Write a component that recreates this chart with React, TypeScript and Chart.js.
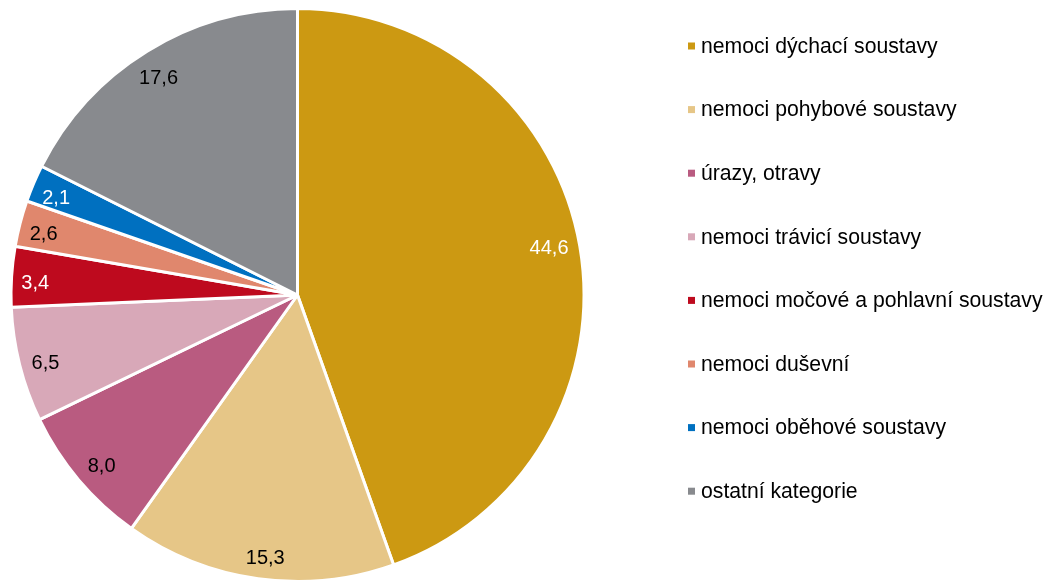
import React, { useEffect, useRef } from "react";
import { Chart, registerables } from "chart.js";

Chart.register(...registerables);

const categories = [
  "nemoci dýchací soustavy",
  "nemoci pohybové soustavy",
  "úrazy, otravy",
  "nemoci trávicí soustavy",
  "nemoci močové a pohlavní soustavy",
  "nemoci duševní",
  "nemoci oběhové soustavy",
  "ostatní kategorie",
];
const values = [44.6, 15.3, 8.0, 6.5, 3.4, 2.6, 2.1, 17.6];
const valueLabels = ["44,6", "15,3", "8,0", "6,5", "3,4", "2,6", "2,1", "17,6"];
const colors = ["#CC9912", "#E6C687", "#B95B80", "#D8A8B8", "#BE0A1E", "#E0876D", "#0070C0", "#888A8E"];
const labelColors = ["#FFFFFF", "#000000", "#000000", "#000000", "#FFFFFF", "#000000", "#FFFFFF", "#000000"];

const FONT = "Liberation Sans, Arial, sans-serif";

const labelsPlugin = {
  id: "sliceLabels",
  afterDatasetsDraw(chart: any) {
    const ctx = chart.ctx;
    const meta = chart.getDatasetMeta(0);
    ctx.save();
    ctx.font = `20px ${FONT}`;
    ctx.textAlign = "center";
    ctx.textBaseline = "middle";
    meta.data.forEach((arc: any, i: number) => {
      const { x, y, startAngle, endAngle, outerRadius } = arc.getProps(
        ["x", "y", "startAngle", "endAngle", "outerRadius"],
        true
      );
      const mid = (startAngle + endAngle) / 2 - 0.016;
      const hw = ctx.measureText(valueLabels[i]).width / 2;
      const hh = 10;
      const extent = Math.abs(Math.cos(mid)) * hw + Math.abs(Math.sin(mid)) * hh;
      const r = outerRadius - extent - 9.5;
      ctx.fillStyle = labelColors[i];
      ctx.fillText(valueLabels[i], x + Math.cos(mid) * r, y + Math.sin(mid) * r + 1);
    });
    ctx.restore();
  },
};

const legendPlugin = {
  id: "customLegend",
  afterDraw(chart: any) {
    const ctx = chart.ctx;
    ctx.save();
    ctx.font = `21.2px ${FONT}`;
    ctx.textBaseline = "middle";
    ctx.textAlign = "left";
    categories.forEach((c, i) => {
      const y = 46 + i * 63.6;
      ctx.fillStyle = colors[i];
      ctx.fillRect(688, y - 3.5, 7, 7);
      ctx.fillStyle = "#000000";
      ctx.fillText(c, 701, y + 1);
    });
    ctx.restore();
  },
};

export default function App() {
  const ref = useRef<HTMLCanvasElement | null>(null);
  useEffect(() => {
    document.body.style.margin = "0";
    document.body.style.overflow = "hidden";
    const chart = new Chart(ref.current as HTMLCanvasElement, {
      type: "pie",
      data: {
        labels: categories,
        datasets: [
          {
            data: values,
            backgroundColor: colors,
            borderColor: "#FFFFFF",
            borderWidth: 3,
          },
        ],
      },
      options: {
        animation: false,
        responsive: false,
        maintainAspectRatio: false,
        layout: { padding: { left: 7, top: 7, right: 1047 - 7 - 581, bottom: 583 - 7 - 581 } },
        plugins: {
          legend: { display: false },
          tooltip: { enabled: false },
        },
      },
      plugins: [labelsPlugin, legendPlugin],
    });
    return () => chart.destroy();
  }, []);
  return (
    <div style={{ width: 1047, height: 583, background: "#fff" }}>
      <canvas ref={ref} width={1047} height={583} style={{ display: "block" }} />
    </div>
  );
}
